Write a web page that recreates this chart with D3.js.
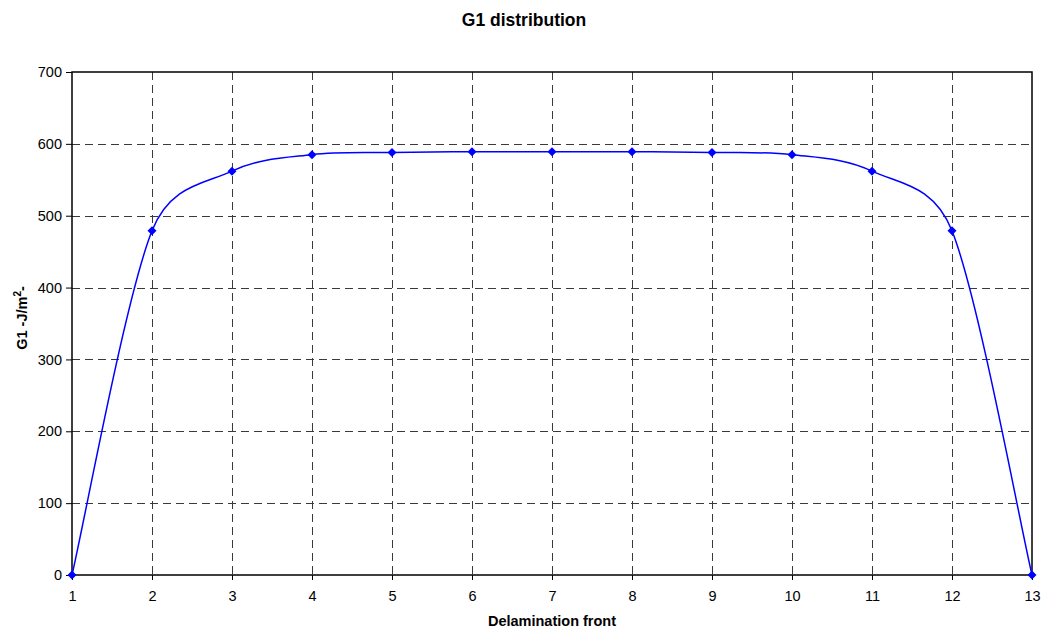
<!DOCTYPE html>
<html>
<head>
<meta charset="utf-8">
<script src="https://cdn.jsdelivr.net/npm/d3@7"></script>
<style>
  body { margin: 0; background: #fff; }
  text { font-family: "Liberation Sans", Arial, sans-serif; fill: #000; }
</style>
</head>
<body>
<svg id="chart" width="1043" height="631"></svg>
<script>
// data
const fronts = [1, 2, 3, 4, 5, 6, 7, 8, 9, 10, 11, 12, 13];
const g1Values = [0, 479, 562, 585, 588, 589, 589, 589, 588, 585, 562, 479, 0];
const yTicks = [0, 100, 200, 300, 400, 500, 600, 700];

const svg = d3.select("#chart");
const margin = { left: 72, right: 11, top: 72, bottom: 56 };
const width = 1043 - margin.left - margin.right;
const height = 631 - margin.top - margin.bottom;

const x = d3.scaleLinear().domain([1, 13]).range([margin.left, margin.left + width]);
const y = d3.scaleLinear().domain([0, 700]).range([margin.top + height, margin.top]);

// spreadsheet style smoothing: catmull-rom arms, clamped to half the segment
function curveSmooth(context) {
  let pts = [];
  return {
    areaStart() {},
    areaEnd() {},
    lineStart() { pts = []; },
    point(px, py) { pts.push([+px, +py]); },
    lineEnd() {
      const n = pts.length;
      if (!n) return;
      context.moveTo(pts[0][0], pts[0][1]);
      const at = (i) => pts[Math.max(0, Math.min(n - 1, i))];
      const arm = (i, len) => {
        const a = at(i - 1), b = at(i + 1);
        let tx = b[0] - a[0], ty = b[1] - a[1];
        const tl = Math.hypot(tx, ty) || 1;
        const l = Math.min(tl / 6, len / 2);
        return [tx / tl * l, ty / tl * l];
      };
      for (let i = 0; i < n - 1; i++) {
        const p = pts[i], q = pts[i + 1];
        const seg = Math.hypot(q[0] - p[0], q[1] - p[1]);
        const a1 = arm(i, seg), a2 = arm(i + 1, seg);
        context.bezierCurveTo(p[0] + a1[0], p[1] + a1[1], q[0] - a2[0], q[1] - a2[1], q[0], q[1]);
      }
    }
  };
}

// dashed grid
svg.append("g")
  .selectAll("line")
  .data(fronts.slice(1, -1))
  .enter()
  .append("line")
  .attr("x1", (d) => Math.round(x(d)) + 0.5)
  .attr("x2", (d) => Math.round(x(d)) + 0.5)
  .attr("y1", y(700))
  .attr("y2", y(0))
  .attr("stroke", "#3a3a3a")
  .attr("stroke-dasharray", "8,5");

svg.append("g")
  .selectAll("line")
  .data(yTicks.slice(1, -1))
  .enter()
  .append("line")
  .attr("x1", x(1))
  .attr("x2", x(13))
  .attr("y1", (d) => Math.round(y(d)) + 0.5)
  .attr("y2", (d) => Math.round(y(d)) + 0.5)
  .attr("stroke", "#3a3a3a")
  .attr("stroke-dasharray", "8,5");

// plot frame
svg.append("rect")
  .attr("x", x(1))
  .attr("y", y(700))
  .attr("width", width)
  .attr("height", height)
  .attr("fill", "none")
  .attr("stroke", "#000")
  .attr("stroke-width", 1.5);

// axes
const xAxis = svg.append("g")
  .attr("transform", "translate(0," + y(0) + ")")
  .call(d3.axisBottom(x).tickValues(fronts).tickFormat(d3.format("d")).tickSize(5).tickPadding(11));

const yAxis = svg.append("g")
  .attr("transform", "translate(" + x(1) + ",0)")
  .call(d3.axisLeft(y).tickValues(yTicks).tickSize(6).tickPadding(4));

[xAxis, yAxis].forEach((a) => {
  a.select(".domain").remove();
  a.selectAll("line").attr("stroke", "#000");
  a.selectAll("text").style("font-size", "14.5px").attr("fill", "#000");
});

// smoothed line + diamonds
const line = d3.line()
  .x((d, i) => x(fronts[i]))
  .y((d) => y(d))
  .curve(curveSmooth);

svg.append("path")
  .datum(g1Values)
  .attr("d", line)
  .attr("fill", "none")
  .attr("stroke", "#0000ff")
  .attr("stroke-width", 1.5);

svg.append("g")
  .selectAll("path")
  .data(g1Values)
  .enter()
  .append("path")
  .attr("transform", (d, i) => "translate(" + x(fronts[i]) + "," + y(d) + ")")
  .attr("d", "M0,-4.5L4.5,0L0,4.5L-4.5,0Z")
  .attr("fill", "#0000ff");

// titles
svg.append("text")
  .attr("x", 524)
  .attr("y", 26)
  .attr("text-anchor", "middle")
  .style("font-size", "17.5px")
  .style("font-weight", "bold")
  .text("G1 distribution");

svg.append("text")
  .attr("x", 552)
  .attr("y", 626)
  .attr("text-anchor", "middle")
  .style("font-size", "14.5px")
  .style("font-weight", "bold")
  .text("Delamination front");

const yLabel = svg.append("text")
  .attr("transform", "translate(27,318) rotate(-90)")
  .attr("text-anchor", "middle")
  .style("font-size", "14.5px")
  .style("font-weight", "bold");
yLabel.append("tspan").text("G1 -J/m");
yLabel.append("tspan").attr("dy", -6).style("font-size", "10px").text("2");
yLabel.append("tspan").attr("dy", 6).text("-");
</script>
</body>
</html>
